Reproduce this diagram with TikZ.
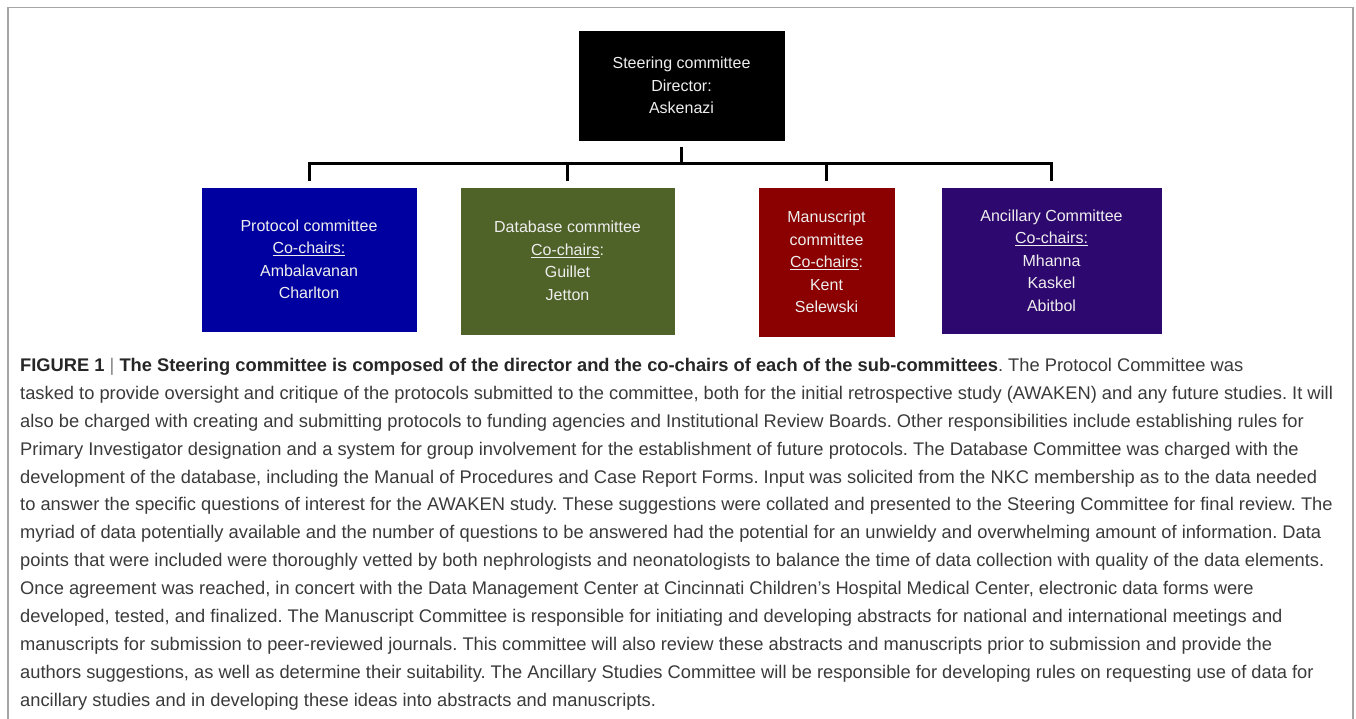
\documentclass[tikz,border=0pt]{standalone}
\usepackage{fontspec}
\setmainfont{Liberation Sans}
\usetikzlibrary{shadows}
\definecolor{protoblue}{RGB}{0,0,160}
\definecolor{dbgreen}{RGB}{79,98,40}
\definecolor{manured}{RGB}{139,0,0}
\definecolor{ancpurple}{RGB}{45,8,110}
\definecolor{boxtext}{RGB}{238,238,238}
\definecolor{captext}{RGB}{58,58,58}
\definecolor{framegray}{RGB}{165,165,165}
\tikzset{
  committee/.style={rectangle, inner sep=0pt, align=center, text=boxtext,
    font=\fontsize{16}{22.5}\selectfont, draw=white, line width=3pt,
    drop shadow={shadow xshift=1.5pt, shadow yshift=-2pt, opacity=0.35, fill=gray}},
  conn/.style={draw=black, line width=3pt, line join=miter},
  captionstyle/.style={anchor=north west, inner sep=0pt, align=left, text=captext,
    font=\fontsize{18.3}{27.9}\selectfont\frenchspacing}
}
\begin{document}
\begin{tikzpicture}[x=1pt,y=-1pt]
\useasboundingbox (0,0) rectangle (1356,718);
\draw[framegray, line width=1.5pt] (8,730) -- (8,7.5) -- (1353,7.5) -- (1353,730);

\node[committee, fill=black, minimum width=209pt, minimum height=113pt] (steer) at (681.5,85.5)
  {Steering committee\\Director:\\Askenazi};
\node[committee, fill=protoblue, minimum width=218pt, minimum height=147pt] (proto) at (309,259.5)
  {Protocol committee\\\underline{Co-chairs:}\\Ambalavanan\\Charlton};
\node[committee, fill=dbgreen, minimum width=217pt, minimum height=150pt] (data) at (567.5,261)
  {Database committee\\\underline{Co-chairs}:\\Guillet\\Jetton};
\node[committee, fill=manured, minimum width=139pt, minimum height=152pt] (manu) at (826.5,262)
  {Manuscript\\committee\\\underline{Co-chairs}:\\Kent\\Selewski};
\node[committee, fill=ancpurple, minimum width=223pt, minimum height=149pt] (anc) at (1051.5,260.5)
  {Ancillary Committee\\\underline{Co-chairs:}\\Mhanna\\Kaskel\\Abitbol};

\coordinate (bus) at (681.5,163);
\draw[conn, shorten <=3pt] (steer.south) -- (bus);
\draw[conn, shorten >=4pt] (bus) -| (proto.north);
\draw[conn, shorten >=4pt] (bus) -| (data.north);
\draw[conn, shorten >=4pt] (bus) -| (manu.north);
\draw[conn, shorten >=4pt] (bus) -| (anc.north);

\node[captionstyle] (cap) at (20,358) {%
\textbf{\color{black!85}FIGURE 1} {\color{gray}|} \textbf{\color{black!85}The Steering committee is composed of the director and the co-chairs of each of the sub-committees}. The Protocol Committee was\\
tasked to provide oversight and critique of the protocols submitted to the committee, both for the initial retrospective study (AWAKEN) and any future studies. It will\\
also be charged with creating and submitting protocols to funding agencies and Institutional Review Boards. Other responsibilities include establishing rules for\\
Primary Investigator designation and a system for group involvement for the establishment of future protocols. The Database Committee was charged with the\\
development of the database, including the Manual of Procedures and Case Report Forms. Input was solicited from the NKC membership as to the data needed\\
to answer the specific questions of interest for the AWAKEN study. These suggestions were collated and presented to the Steering Committee for final review. The\\
myriad of data potentially available and the number of questions to be answered had the potential for an unwieldy and overwhelming amount of information. Data\\
points that were included were thoroughly vetted by both nephrologists and neonatologists to balance the time of data collection with quality of the data elements.\\
Once agreement was reached, in concert with the Data Management Center at Cincinnati Children’s Hospital Medical Center, electronic data forms were\\
developed, tested, and finalized. The Manuscript Committee is responsible for initiating and developing abstracts for national and international meetings and\\
manuscripts for submission to peer-reviewed journals. This committee will also review these abstracts and manuscripts prior to submission and provide the\\
authors suggestions, as well as determine their suitability. The Ancillary Studies Committee will be responsible for developing rules on requesting use of data for\\
ancillary studies and in developing these ideas into abstracts and manuscripts.};
\end{tikzpicture}
\end{document}
